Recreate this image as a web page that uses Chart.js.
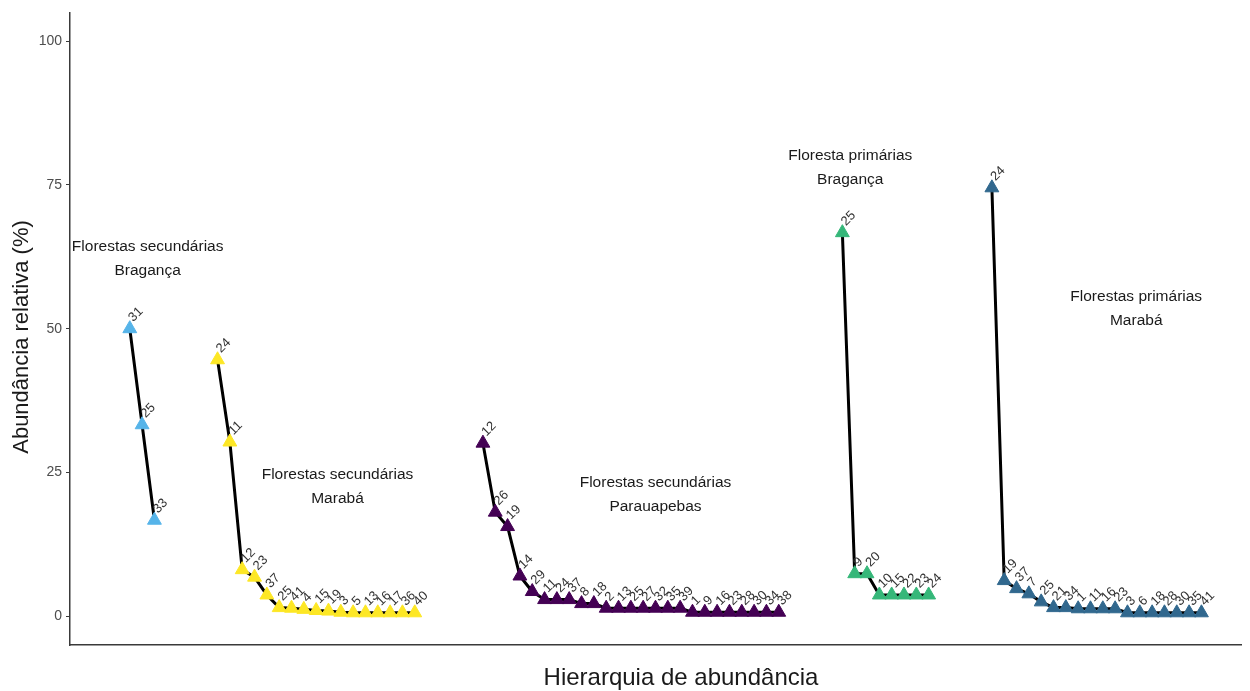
<!DOCTYPE html>
<html lang="pt">
<head>
<meta charset="utf-8">
<title>Hierarquia de abundância</title>
<script src="https://cdn.jsdelivr.net/npm/chart.js@4.4.1/dist/chart.umd.min.js"></script>
<style>
  html, body { margin: 0; padding: 0; background: #ffffff; }
  #wrap { width: 1250px; height: 691px; }
</style>
</head>
<body>
<div id="wrap"><canvas id="chart" width="1250" height="691"></canvas></div>
<script>
// Rank-abundance curves: species code labels and relative abundance (%) per forest type
const groupTitles = [
  ['Florestas secundárias', 'Bragança'],
  ['Florestas secundárias', 'Marabá'],
  ['Florestas secundárias', 'Parauapebas'],
  ['Floresta primárias', 'Bragança'],
  ['Florestas primárias', 'Marabá']
];
const groupColors = ['#56B4E9', '#FDE725', '#440154', '#35B779', '#31688E'];

// x position of rank 1 of each group on the shared rank axis
const groupStart = [4.85, 11.97, 33.5, 62.66, 74.79];

const secBragancaSpecies = ['31', '25', '33'];
const secBragancaValues  = [50.0, 33.3, 16.7];

const secMarabaSpecies = ['24', '11', '12', '23', '37', '25', '41', '4', '15', '19', '3', '5', '13', '16', '17', '36', '40'];
const secMarabaValues  = [44.6, 30.3, 8.1, 6.8, 3.7, 1.5, 1.4, 1.2, 1.0, 0.9, 0.7, 0.6, 0.6, 0.6, 0.6, 0.6, 0.6];

const secParauapebasSpecies = ['12', '26', '19', '14', '29', '11', '24', '37', '8', '18', '2', '13', '25', '27', '32', '35', '39', '1', '9', '16', '23', '28', '30', '34', '38'];
const secParauapebasValues  = [30.1, 18.1, 15.6, 7.0, 4.3, 2.9, 2.9, 2.9, 2.2, 2.2, 1.4, 1.4, 1.4, 1.4, 1.4, 1.4, 1.4, 0.7, 0.7, 0.7, 0.7, 0.7, 0.7, 0.7, 0.7];

const priBragancaSpecies = ['25', '9', '20', '10', '15', '22', '23', '24'];
const priBragancaValues  = [66.7, 7.4, 7.4, 3.7, 3.7, 3.7, 3.7, 3.7];

const priMarabaSpecies = ['24', '19', '37', '7', '25', '21', '34', '1', '11', '16', '23', '3', '6', '18', '28', '30', '35', '41'];
const priMarabaValues  = [74.5, 6.2, 4.8, 3.9, 2.5, 1.5, 1.5, 1.3, 1.3, 1.3, 1.3, 0.6, 0.6, 0.6, 0.6, 0.6, 0.6, 0.6];

// title anchor (centre) of each group, in axis units
const titleX = [6.3, 21.7, 47.5, 63.3, 86.5];
const titleY = [62.2, 22.6, 21.1, 78.0, 53.4];

const yTicks = [0, 25, 50, 75, 100];

const groupSpecies = [secBragancaSpecies, secMarabaSpecies, secParauapebasSpecies, priBragancaSpecies, priMarabaSpecies];
const groupValues  = [secBragancaValues, secMarabaValues, secParauapebasValues, priBragancaValues, priMarabaValues];

const datasets = groupValues.map((vals, g) => ({
  label: groupTitles[g].join(' '),
  species: groupSpecies[g],
  data: vals.map((v, i) => ({ x: groupStart[g] + i, y: v })),
  showLine: true,
  borderColor: '#000000',
  borderWidth: 3,
  pointStyle: 'triangle',
  pointRadius: 8,
  pointBorderWidth: 1,
  pointBackgroundColor: groupColors[g],
  pointBorderColor: groupColors[g],
  tension: 0
}));

const FONT = '"Liberation Sans", Arial, Helvetica, sans-serif';

const textPlugin = {
  id: 'rankTexts',
  afterDatasetsDraw(chart) {
    const ctx = chart.ctx;
    const xs = chart.scales.x, ys = chart.scales.y;
    // species codes, rotated
    chart.data.datasets.forEach((ds, i) => {
      const meta = chart.getDatasetMeta(i);
      meta.data.forEach((pt, j) => {
        ctx.save();
        ctx.translate(pt.x + 1, pt.y - 9);
        ctx.rotate(-Math.PI / 4);
        ctx.font = '13px ' + FONT;
        ctx.fillStyle = '#333333';
        ctx.textAlign = 'left';
        ctx.textBaseline = 'middle';
        ctx.fillText(ds.species[j], 0, 0);
        ctx.restore();
      });
    });
    // group titles
    ctx.save();
    ctx.font = '15.5px ' + FONT;
    ctx.fillStyle = '#1a1a1a';
    ctx.textAlign = 'center';
    ctx.textBaseline = 'middle';
    groupTitles.forEach((lines, g) => {
      const cx = xs.getPixelForValue(titleX[g]);
      const cy = ys.getPixelForValue(titleY[g]);
      ctx.fillText(lines[0], cx, cy - 12);
      ctx.fillText(lines[1], cx, cy + 12);
    });
    ctx.restore();
    // axis titles
    const area = chart.chartArea;
    ctx.save();
    ctx.fillStyle = '#1a1a1a';
    ctx.textAlign = 'center';
    ctx.textBaseline = 'middle';
    ctx.font = '24px ' + FONT;
    ctx.fillText('Hierarquia de abundância', 681, 678);
    ctx.font = '22px ' + FONT;
    ctx.translate(22, 337);
    ctx.rotate(-Math.PI / 2);
    ctx.fillText('Abundância relativa (%)', 0, 0);
    ctx.restore();
  }
};

new Chart(document.getElementById('chart'), {
  type: 'scatter',
  data: { datasets },
  options: {
    responsive: false,
    animation: false,
    devicePixelRatio: 1,
    layout: { padding: { top: 12, right: 5, bottom: 0, left: 0 } },
    plugins: { legend: { display: false }, tooltip: { enabled: false } },
    scales: {
      x: {
        type: 'linear',
        min: 0,
        max: 95,
        ticks: { display: false },
        grid: { display: true, drawOnChartArea: false, drawTicks: false },
        border: { display: true, color: '#3a3a3a', width: 1.5 },
        afterFit(scale) { scale.height = 46; }
      },
      y: {
        type: 'linear',
        min: -5,
        max: 105,
        afterBuildTicks(scale) { scale.ticks = yTicks.map(v => ({ value: v })); },
        ticks: {
          color: '#4d4d4d',
          font: { size: 14, family: FONT },
          padding: 4
        },
        grid: { display: true, drawOnChartArea: false, drawTicks: true, tickLength: 4, color: '#3a3a3a' },
        border: { display: true, color: '#3a3a3a', width: 1.5 },
        afterFit(scale) { scale.width = 70; }
      }
    }
  },
  plugins: [textPlugin]
});
</script>
</body>
</html>
